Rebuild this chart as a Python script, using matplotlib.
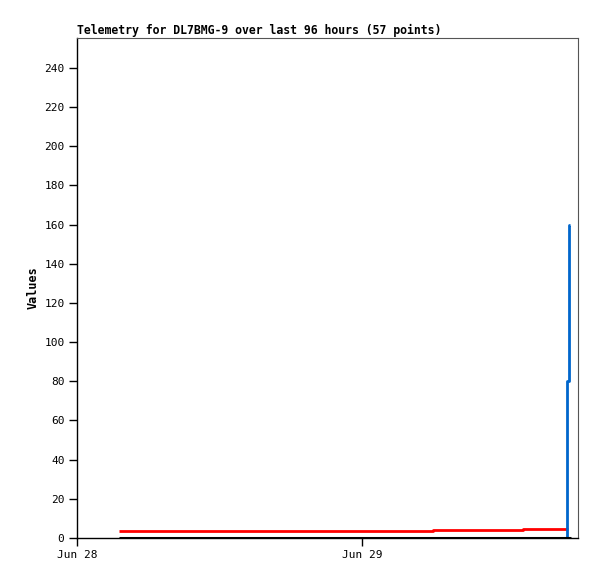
import matplotlib
matplotlib.use("Agg")
import matplotlib.pyplot as plt

# hours since Jun 28 00:00
red_hours = [3.5, 30.0, 37.6, 41.35]
red_values = [3.7, 4.2, 4.7, 4.7]

black_hours = [3.5, 41.6]
black_values = [0, 0]

blue_hours = [41.25, 41.28, 41.42, 41.5]
blue_values = [0, 80, 160, 160]

tick_hours = [0, 24]
tick_labels = ["Jun 28", "Jun 29"]
y_ticks = list(range(0, 241, 20))

fig = plt.figure(figsize=(5.97, 5.79), dpi=100)
ax = fig.add_axes([77 / 597, 1 - 538 / 579, 501 / 597, 500 / 579])

ax.step(red_hours, red_values, where="post", color="#ff0000", lw=2,
        solid_capstyle="butt")
ax.step(blue_hours, blue_values, where="post", color="#0066cc", lw=2,
        solid_capstyle="butt")
ax.plot(black_hours, black_values, color="black", lw=2.2, solid_capstyle="butt")

ax.set_xlim(0, 42.19)
ax.set_ylim(0, 255.3)
ax.set_xticks(tick_hours)
ax.set_xticklabels(tick_labels)
ax.set_yticks(y_ticks)

mono = "DejaVu Sans Mono"
for lbl in ax.get_xticklabels() + ax.get_yticklabels():
    lbl.set_fontfamily(mono)
    lbl.set_fontsize(8)
ax.tick_params(direction="out", length=6, width=1, color="black", pad=3)

for side in ("top", "right"):
    ax.spines[side].set_color("#555555")
    ax.spines[side].set_linewidth(0.8)
for side in ("left", "bottom"):
    ax.spines[side].set_color("black")
    ax.spines[side].set_linewidth(1)

ax.set_title("Telemetry for DL7BMG-9 over last 96 hours (57 points)",
             loc="left", fontfamily=mono, fontweight="bold", fontsize=8.3, pad=3)
ax.set_ylabel("Values", fontfamily=mono, fontweight="bold", fontsize=8.5, labelpad=3)

fig.savefig("out.png", dpi=100)
